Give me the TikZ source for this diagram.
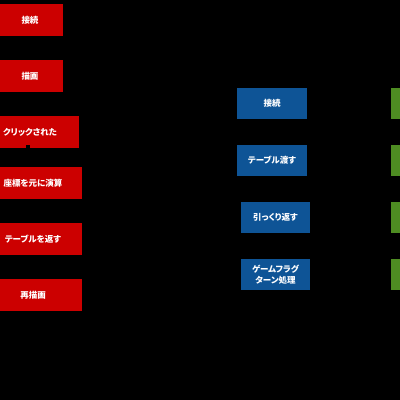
\documentclass[tikz,border=0pt]{standalone}
\usepackage{fontspec}
\newfontfamily\jp{Noto Sans CJK JP}[RawFeature=+palt]
\definecolor{redbox}{RGB}{204,0,0}
\definecolor{bluebox}{RGB}{14,84,150}
\definecolor{greenbox}{RGB}{78,140,34}
\tikzset{
  box/.style={draw=none, inner sep=0pt, font=\jp\bfseries\fontsize{8.5}{10.5}\selectfont, text=white, align=center},
  redb/.style={box, fill=redbox},
  blueb/.style={box, fill=bluebox},
  greenb/.style={box, fill=greenbox},
  conn/.style={draw=black, line width=4pt}
}
\begin{document}
\begin{tikzpicture}[x=1pt,y=-1pt]
\useasboundingbox (0,0) rectangle (400,400);
\fill[black] (0,0) rectangle (400,400);
\clip (0,0) rectangle (400,400);
% red column
\node[redb, minimum width=66pt, minimum height=32pt] (r1) at (30,20) {接続};
\node[redb, minimum width=66pt, minimum height=32pt] (r2) at (30,76) {描画};
\node[redb, minimum width=98pt, minimum height=32pt] (r3) at (30,132) {クリックされた};
\node[redb, minimum width=98pt, minimum height=32pt] (r4) at (33,183) {座標を元に演算};
\node[redb, minimum width=98pt, minimum height=32pt] (r5) at (33,239) {テーブルを返す};
\node[redb, minimum width=98pt, minimum height=32pt] (r6) at (33,295) {再描画};
% blue column
\node[blueb, minimum width=70pt, minimum height=31pt] (b1) at (272,103.5) {接続};
\node[blueb, minimum width=70pt, minimum height=31pt] (b2) at (272,160.5) {テーブル渡す};
\node[blueb, minimum width=69pt, minimum height=31pt] (b3) at (275.5,217.5) {引っくり返す};
\node[blueb, minimum width=69pt, minimum height=31pt] (b4) at (275.5,274.5) {ゲームフラグ\\ターン処理};
% green column (cropped at right edge)
\node[greenb, minimum width=40pt, minimum height=31pt] (g1) at (411,103.5) {};
\node[greenb, minimum width=40pt, minimum height=31pt] (g2) at (411,160.5) {};
\node[greenb, minimum width=40pt, minimum height=31pt] (g3) at (411,217.5) {};
\node[greenb, minimum width=40pt, minimum height=31pt] (g4) at (411,274.5) {};
% black connector end visible on the red box
\coordinate (c1) at ([xshift=-2pt,yshift=3pt]r3.south);
\coordinate (c2) at ([xshift=-2pt]r3.south |- r4.north);
\draw[conn] (c1) -- (c2);
\end{tikzpicture}
\end{document}
